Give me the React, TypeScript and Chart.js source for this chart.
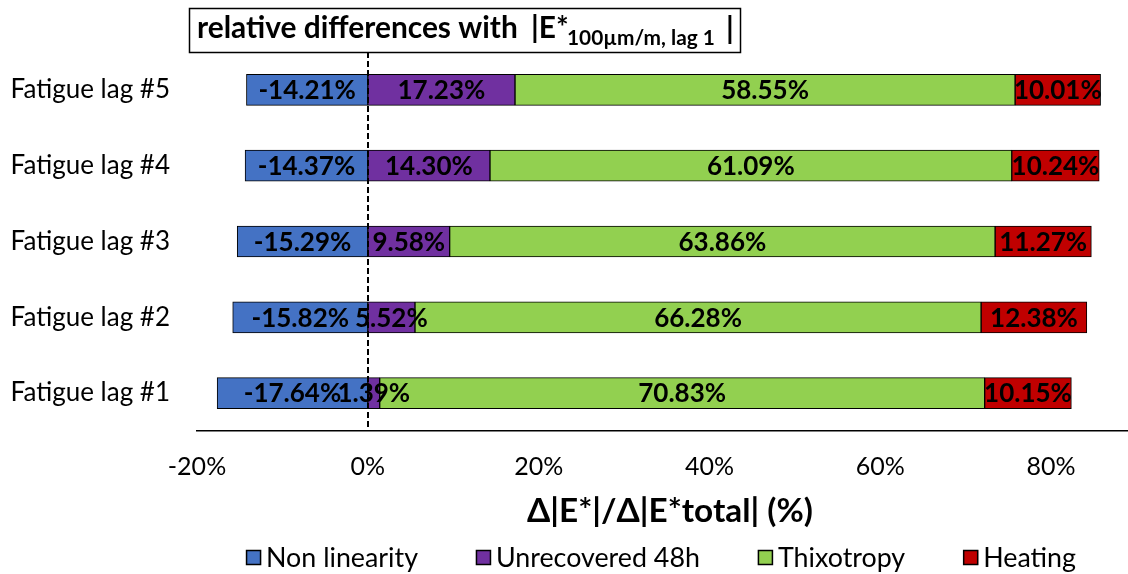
import React, { useEffect, useRef } from 'react';
import { Chart, registerables } from 'chart.js';
Chart.register(...registerables);

const categories = ['Fatigue lag #5', 'Fatigue lag #4', 'Fatigue lag #3', 'Fatigue lag #2', 'Fatigue lag #1'];
const nonLinearity = [-14.21, -14.37, -15.29, -15.82, -17.64];
const unrecovered = [17.23, 14.30, 9.58, 5.52, 1.39];
const thixotropy = [58.55, 61.09, 63.86, 66.28, 70.83];
const heating = [10.01, 10.24, 11.27, 12.38, 10.15];
const seriesNames = ['Non linearity', 'Unrecovered 48h', 'Thixotropy', 'Heating'];
const seriesColors = ['#4472C4', '#7030A0', '#92D050', '#C00000'];
const xTickValues = [-20, 0, 20, 40, 60, 80];
const titleMain = 'relative differences with';
const titleE = '|E*';
const titleSub = '100µm/m, lag 1';
const xTitle = 'Δ|E*|/Δ|E*total| (%)';

const FONT = 'Lato, "Open Sans", sans-serif';

function fitSize(ctx: CanvasRenderingContext2D, text: string, weight: string, target: number) {
  ctx.font = `${weight} 100px ${FONT}`;
  const w = ctx.measureText(text).width;
  return (100 * target) / w;
}

const zeroLinePlugin = {
  id: 'zeroLine',
  afterDatasetsDraw(chart: any) {
    const ctx = chart.ctx;
    const x = Math.round(chart.scales.x.getPixelForValue(0));
    ctx.save();
    ctx.strokeStyle = '#000';
    ctx.lineWidth = 2;
    ctx.setLineDash([6, 3]);
    ctx.beginPath();
    ctx.moveTo(x, chart.chartArea.top);
    ctx.lineTo(x, chart.chartArea.bottom);
    ctx.stroke();
    ctx.restore();
  },
};

const labelsPlugin = {
  id: 'segLabels',
  afterDatasetsDraw(chart: any) {
    const ctx = chart.ctx;
    ctx.save();
    ctx.font = `bold 26px ${FONT}`;
    ctx.fillStyle = '#000';
    ctx.textAlign = 'center';
    ctx.textBaseline = 'middle';
    chart.data.datasets.forEach((ds: any, i: number) => {
      const meta = chart.getDatasetMeta(i);
      meta.data.forEach((el: any, j: number) => {
        const v = ds.data[j] as number;
        const p = el.getProps(['x', 'base', 'y'], true);
        ctx.fillText(v.toFixed(2) + '%', (p.x + p.base) / 2, p.y + 1);
      });
    });
    ctx.restore();
  },
};

const decorPlugin = {
  id: 'decor',
  afterDraw(chart: any) {
    const ctx: CanvasRenderingContext2D = chart.ctx;
    ctx.save();
    // title box
    ctx.fillStyle = '#fff';
    ctx.fillRect(189, 8, 551, 44);
    ctx.strokeStyle = '#000';
    ctx.lineWidth = 1.5;
    ctx.strokeRect(189.5, 8.5, 551, 44);
    ctx.fillStyle = '#000';
    ctx.textBaseline = 'alphabetic';
    ctx.textAlign = 'left';
    const mainSize = fitSize(ctx, titleMain, 'bold', 321);
    ctx.font = `bold ${mainSize}px ${FONT}`;
    ctx.fillText(titleMain, 197, 38);
    ctx.fillText(titleE, 531, 38);
    const subSize = fitSize(ctx, titleSub, 'bold', 148);
    ctx.font = `bold ${subSize}px ${FONT}`;
    ctx.fillText(titleSub, 567, 45);
    ctx.font = `bold ${mainSize}px ${FONT}`;
    ctx.fillText('|', 726, 39);

    // x axis title
    const xs = fitSize(ctx, xTitle, 'bold', 286);
    ctx.font = `bold ${xs}px ${FONT}`;
    ctx.textAlign = 'center';
    ctx.textBaseline = 'middle';
    ctx.fillText(xTitle, 670, 511);

    // legend
    const ls = fitSize(ctx, seriesNames[0], 'normal', 152);
    ctx.font = `normal ${ls}px ${FONT}`;
    const box = 15, gap = 5, itemGap = 58;
    const widths = seriesNames.map((n) => ctx.measureText(n).width);
    const total = widths.reduce((a, w) => a + box + gap + w, 0) + itemGap * (seriesNames.length - 1);
    let x = 661 - total / 2;
    ctx.textAlign = 'left';
    seriesNames.forEach((n, i) => {
      ctx.fillStyle = seriesColors[i];
      ctx.fillRect(x, 550, box, box);
      ctx.strokeStyle = '#000';
      ctx.lineWidth = 1.5;
      ctx.strokeRect(x + 0.5, 550.5, box - 1, box - 1);
      ctx.fillStyle = '#000';
      ctx.fillText(n, x + box + gap, 558);
      x += box + gap + widths[i] + itemGap;
    });
    ctx.restore();
  },
};

export default function App() {
  const ref = useRef<HTMLCanvasElement>(null);
  useEffect(() => {
    const canvas = ref.current!;
    const seriesData = [nonLinearity, unrecovered, thixotropy, heating];
    const chart = new Chart(canvas, {
      type: 'bar',
      data: {
        labels: categories,
        datasets: seriesNames.map((name, i) => ({
          label: name,
          data: seriesData[i],
          backgroundColor: seriesColors[i],
          borderColor: '#000',
          borderWidth: 1,
          borderSkipped: false,
          barThickness: 31,
        })),
      },
      options: {
        indexAxis: 'y',
        responsive: false,
        animation: false,
        devicePixelRatio: 1,
        layout: { padding: { top: 52, left: 0, right: 0, bottom: 0 } },
        plugins: {
          legend: { display: false },
          tooltip: { enabled: false },
          title: { display: false },
        },
        scales: {
          x: {
            type: 'linear',
            stacked: true,
            min: -20,
            max: 89,
            afterBuildTicks: (scale: any) => {
              scale.ticks = xTickValues.map((v) => ({ value: v }));
            },
            afterFit: (scale: any) => {
              scale.height = 143;
            },
            ticks: {
              callback: (v: any) => `${v}%`,
              font: { family: FONT, size: 25 },
              color: '#000',
              padding: 21,
              maxRotation: 0,
            },
            grid: { display: false, drawTicks: false },
            border: { display: true, color: '#000', width: 1.5 },
          },
          y: {
            stacked: true,
            afterFit: (scale: any) => {
              scale.width = 197;
            },
            ticks: {
              font: { family: FONT, size: 26 },
              color: '#000',
              padding: 27,
            },
            grid: { display: false, drawTicks: false },
            border: { display: false },
          },
        },
      },
      plugins: [zeroLinePlugin, labelsPlugin, decorPlugin],
    } as any);
    return () => chart.destroy();
  }, []);
  return (
    <div style={{ position: 'absolute', left: 0, top: 0, width: 1128, height: 574, background: '#fff' }}>
      <canvas ref={ref} width={1128} height={574} style={{ display: 'block', width: 1128, height: 574 }} />
    </div>
  );
}
